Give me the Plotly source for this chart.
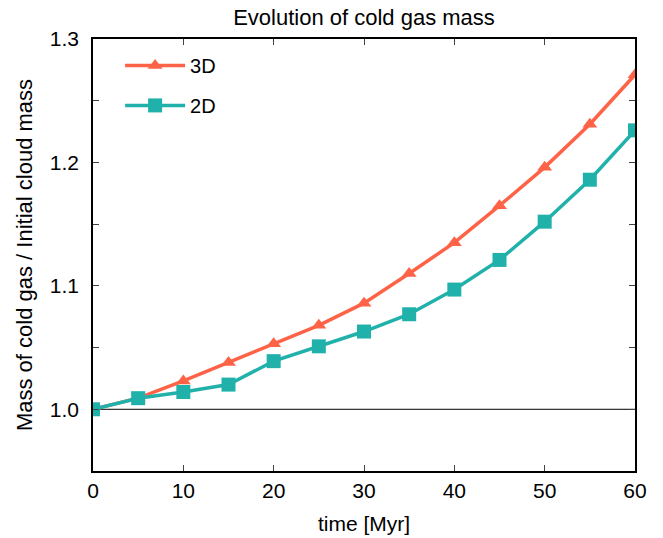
import plotly.graph_objects as go

time = [0, 5, 10, 15, 20, 25, 30, 35, 40, 45, 50, 55, 60]
mass_3d = [1.0, 1.009, 1.023, 1.038, 1.053, 1.068, 1.086, 1.110, 1.135, 1.165, 1.196, 1.231, 1.271]
mass_2d = [1.0, 1.009, 1.014, 1.020, 1.039, 1.051, 1.063, 1.077, 1.097, 1.121, 1.152, 1.186, 1.226]

ytick_vals = [0.95, 1.0, 1.05, 1.1, 1.15, 1.2, 1.25, 1.3]
ytick_text = ["", "1.0", "", "1.1", "", "1.2", "", "1.3"]
xtick_vals = [0, 10, 20, 30, 40, 50, 60]

font = "Liberation Sans, Arial, sans-serif"

fig = go.Figure()
fig.add_trace(go.Scatter(
    x=time, y=mass_3d, name="3D", mode="lines+markers", legendgroup="a",
    line=dict(color="#FF6347", width=3.5),
    marker=dict(symbol="triangle-up", size=13, color="#FF6347"),
))
fig.add_trace(go.Scatter(
    x=time, y=mass_2d, name="2D", mode="lines+markers", legendgroup="b",
    line=dict(color="#20B2AA", width=3.5),
    marker=dict(symbol="square", size=14, color="#20B2AA"),
))
fig.add_hline(y=1.0, line=dict(color="black", width=1), layer="below")

fig.update_layout(
    width=663, height=538,
    margin=dict(l=93, r=28, t=39, b=67),
    paper_bgcolor="white", plot_bgcolor="white",
    font=dict(family=font, size=20, color="black"),
    title=dict(text="Evolution of cold gas mass", xref="paper", x=0.5, xanchor="center",
               yref="container", y=0.9675, yanchor="middle", font=dict(size=22)),
    showlegend=True,
    legend=dict(x=0.05, y=0.984, xanchor="left", yanchor="top",
                bgcolor="rgba(0,0,0,0)", font=dict(size=20),
                itemwidth=60, tracegroupgap=11),
    xaxis=dict(range=[0, 60], tickvals=xtick_vals, ticks="inside", ticklen=6,
               showline=True, linecolor="black", linewidth=1.5, mirror="ticks",
               showgrid=False, zeroline=False, automargin=False,
               title=dict(text="time [Myr]", standoff=15, font=dict(size=21)),
               tickfont=dict(size=21)),
    yaxis=dict(range=[0.95, 1.3], tickvals=ytick_vals, ticktext=ytick_text,
               ticks="inside", ticklen=6, ticklabelstandoff=8,
               showline=True, linecolor="black", linewidth=1.5, mirror="ticks",
               showgrid=False, zeroline=False, automargin=False,
               title=dict(text="Mass of cold gas / Initial cloud mass", standoff=11,
                          font=dict(size=22)),
               tickfont=dict(size=21)),
)

fig.write_html("out.html", config={"displayModeBar": False},
               post_script="document.body.style.margin='0';")
